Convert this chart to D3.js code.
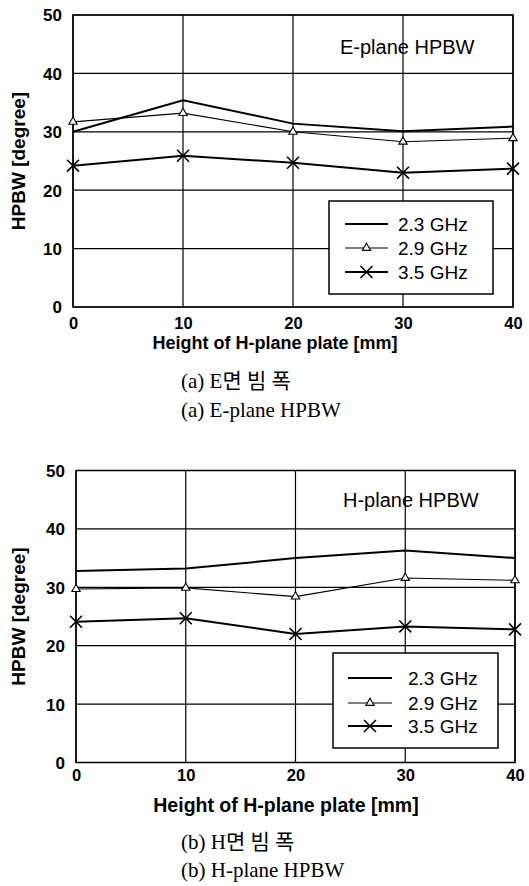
<!DOCTYPE html>
<html lang="ko">
<head>
  <meta charset="UTF-8">
  <script src="https://cdn.jsdelivr.net/npm/d3@7"></script>
  <title>HPBW</title>
  <style>
    body { margin: 0; background: #fff; }
    svg { display: block; }
  </style>
</head>
<body>
  <svg></svg>
</body>
<script>
const width = 529;
const height = 886;

// data
const heights = [0, 10, 20, 30, 40];
const xTicks = [0, 10, 20, 30, 40];
const yTicks = [0, 10, 20, 30, 40, 50];
const seriesNames = ['2.3 GHz', '2.9 GHz', '3.5 GHz'];

const ePlane23 = [30.0, 35.4, 31.4, 30.1, 30.9];
const ePlane29 = [31.7, 33.2, 30.0, 28.3, 28.9];
const ePlane35 = [24.2, 25.9, 24.7, 23.0, 23.7];

const hPlane23 = [32.8, 33.2, 35.0, 36.3, 35.0];
const hPlane29 = [29.7, 29.9, 28.4, 31.6, 31.2];
const hPlane35 = [24.1, 24.7, 22.0, 23.3, 22.8];

const svg = d3.select('svg').attr('width', width).attr('height', height);

const sans = '"Liberation Sans", Arial, sans-serif';
const serif = '"Liberation Serif", "Noto Sans CJK KR", serif';

const styles = [
  { width: 2, marker: null },
  { width: 1.1, marker: 'triangle' },
  { width: 2, marker: 'times' }
];

const drawMarker = (sel, kind) => {
  if (kind === 'triangle') {
    sel.attr('d', d3.symbol(d3.symbolTriangle).size(30)())
       .attr('fill', '#fff').attr('stroke', '#000').attr('stroke-width', 1.1);
  } else if (kind === 'times') {
    sel.attr('d', d3.symbol(d3.symbolTimes).size(95)())
       .attr('fill', 'none').attr('stroke', '#000').attr('stroke-width', 1.6);
  }
};

const drawChart = (cfg) => {
  const g = svg.append('g');
  const xScale = d3.scaleLinear().domain([0, 40]).range([cfg.left, cfg.right]);
  const yScale = d3.scaleLinear().domain([0, 50]).range([cfg.bottom, cfg.top]);

  // grid
  g.append('g').selectAll('line.v').data(xTicks).enter().append('line')
    .attr('x1', d => xScale(d)).attr('x2', d => xScale(d))
    .attr('y1', cfg.top).attr('y2', cfg.bottom)
    .attr('stroke', '#000').attr('stroke-width', 1.2);
  g.append('g').selectAll('line.h').data(yTicks).enter().append('line')
    .attr('x1', cfg.left).attr('x2', cfg.right)
    .attr('y1', d => yScale(d)).attr('y2', d => yScale(d))
    .attr('stroke', '#000').attr('stroke-width', 1.2);
  g.append('rect')
    .attr('x', cfg.left).attr('y', cfg.top)
    .attr('width', cfg.right - cfg.left).attr('height', cfg.bottom - cfg.top)
    .attr('fill', 'none').attr('stroke', '#000').attr('stroke-width', 1.5);

  // axes (labels only, grid drawn above)
  const xAxis = d3.axisBottom(xScale).tickValues(xTicks).tickSize(0).tickPadding(0);
  const xg = g.append('g').attr('transform', `translate(0, ${cfg.bottom + cfg.xTickGap})`).call(xAxis);
  const yAxis = d3.axisLeft(yScale).tickValues(yTicks).tickSize(0).tickPadding(0);
  const yg = g.append('g').attr('transform', `translate(${cfg.left - 11}, 0)`).call(yAxis);
  [xg, yg].forEach(a => {
    a.select('.domain').remove();
    a.selectAll('text')
      .attr('font-family', sans).attr('font-weight', 'bold').attr('fill', '#000');
  });
  yg.selectAll('text').attr('dy', '0.35em').attr('font-size', 17);
  xg.selectAll('text').attr('dy', '0.35em').attr('y', 0).attr('font-size', 16.5);

  // series
  const line = d3.line().x((d, i) => xScale(heights[i])).y(d => yScale(d));
  cfg.series.forEach((vals, k) => {
    g.append('path').datum(vals).attr('d', line)
      .attr('fill', 'none').attr('stroke', '#000').attr('stroke-width', styles[k].width);
    if (styles[k].marker) {
      g.append('g').selectAll('path').data(vals).enter().append('path')
        .attr('transform', (d, i) => `translate(${xScale(heights[i])}, ${yScale(d)})`)
        .call(drawMarker, styles[k].marker);
    }
  });

  // in-plot title
  g.append('text').attr('x', cfg.titleX).attr('y', cfg.titleY).attr('dy', '0.35em')
    .attr('font-family', sans).attr('font-size', 20).text(cfg.title);

  // legend
  const lg = g.append('g');
  lg.append('rect').attr('x', cfg.legend.x).attr('y', cfg.legend.y)
    .attr('width', cfg.legend.w).attr('height', cfg.legend.h)
    .attr('fill', '#fff').attr('stroke', '#000').attr('stroke-width', 1.5);
  seriesNames.forEach((name, k) => {
    const yy = cfg.legend.rows[k];
    lg.append('line').attr('x1', cfg.legend.lx1).attr('x2', cfg.legend.lx2)
      .attr('y1', yy).attr('y2', yy)
      .attr('stroke', '#000').attr('stroke-width', styles[k].width);
    if (styles[k].marker) {
      lg.append('path')
        .attr('transform', `translate(${(cfg.legend.lx1 + cfg.legend.lx2) / 2}, ${yy})`)
        .call(drawMarker, styles[k].marker);
    }
    lg.append('text').attr('x', cfg.legend.tx).attr('y', yy).attr('dy', '0.35em')
      .attr('font-family', sans).attr('font-size', 19).text(name);
  });

  // axis titles
  g.append('text').attr('x', cfg.xTitleX).attr('y', cfg.xTitleY).attr('dy', '0.35em')
    .attr('text-anchor', 'middle').attr('font-family', sans).attr('font-size', cfg.xTitleSize)
    .attr('font-weight', 'bold').text('Height of H-plane plate [mm]');
  g.append('text')
    .attr('transform', `translate(18, ${(cfg.top + cfg.bottom) / 2}) rotate(-90)`)
    .attr('dy', '0.35em').attr('text-anchor', 'middle')
    .attr('font-family', sans).attr('font-size', 19).attr('font-weight', 'bold')
    .text('HPBW [degree]');

  // captions
  cfg.captions.forEach((c, i) => {
    g.append('text').attr('x', 181).attr('y', cfg.captionY[i]).attr('dy', '0.35em')
      .attr('font-family', serif).attr('font-size', 21).text(c);
  });
};

drawChart({
  left: 73, right: 513, top: 15, bottom: 307,
  series: [ePlane23, ePlane29, ePlane35],
  title: 'E-plane HPBW', titleX: 340, titleY: 47,
  legend: { x: 329, y: 201, w: 164, h: 93, rows: [224, 248, 272], lx1: 345, lx2: 388, tx: 398 },
  xTickGap: 16, xTitleX: 275, xTitleY: 343, xTitleSize: 18,
  captions: ['(a) E면 빔 폭', '(a) E-plane  HPBW'], captionY: [381, 410]
});

drawChart({
  left: 76, right: 515, top: 470.5, bottom: 762.5,
  series: [hPlane23, hPlane29, hPlane35],
  title: 'H-plane HPBW', titleX: 343, titleY: 500,
  legend: { x: 333, y: 653, w: 165, h: 95, rows: [678, 703, 726], lx1: 348, lx2: 392, tx: 408 },
  xTickGap: 13, xTitleX: 286, xTitleY: 805, xTitleSize: 19.5,
  captions: ['(b) H면 빔 폭', '(b) H-plane  HPBW'], captionY: [842, 870]
});
</script>
</html>
